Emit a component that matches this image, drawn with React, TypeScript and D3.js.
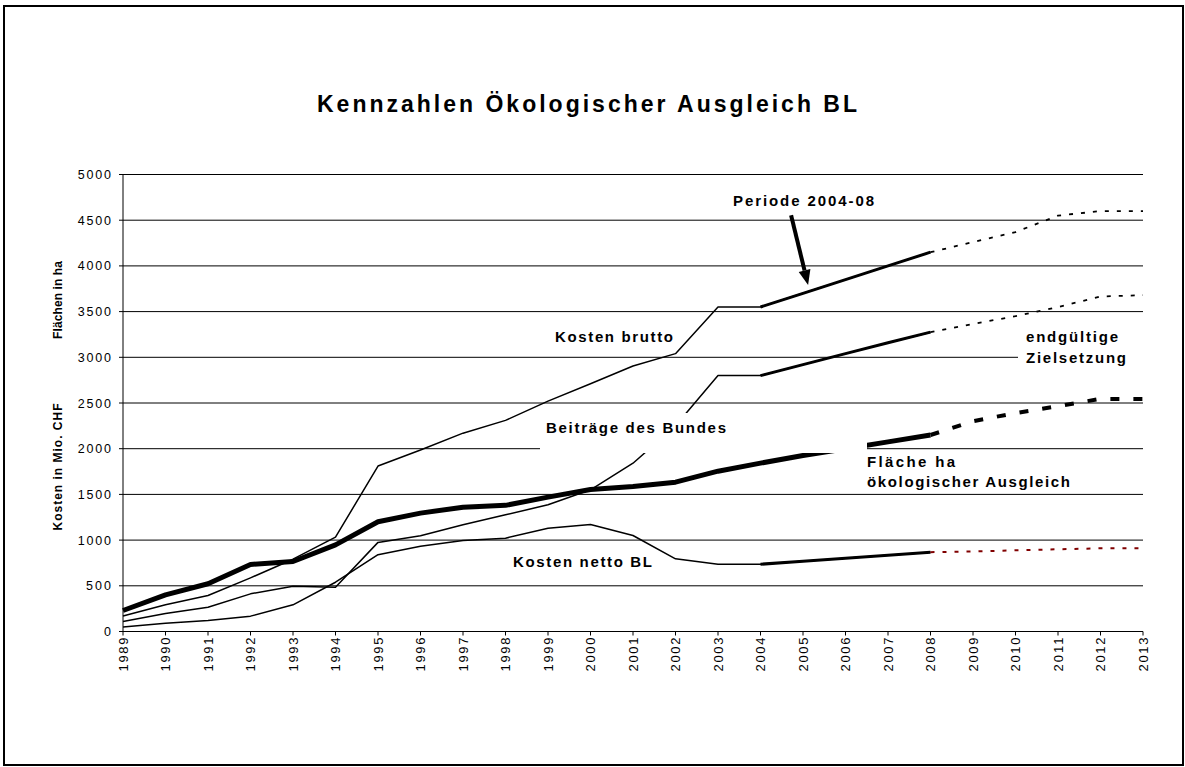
import React from "react";
import * as d3 from "d3";

// Jahre (Achsenbeschriftung)
const years = [
  1989, 1990, 1991, 1992, 1993, 1994, 1995, 1996, 1997, 1998, 1999, 2000, 2001,
  2002, 2003, 2004, 2005, 2006, 2007, 2008, 2009, 2010, 2011, 2012, 2013,
];
const istYears = years.slice(0, 20); // 1989-2008
const zielYears = years.slice(19); // 2008-2013
const periodeStart = 15; // Index 2004

const yTicks = [0, 500, 1000, 1500, 2000, 2500, 3000, 3500, 4000, 4500, 5000];

// Kosten brutto (Mio. CHF)
const bruttoIst = [170, 292, 394, 587, 791, 1032, 1810, 1985, 2170, 2310, 2520, 2710, 2905, 3040, 3550, 3550, 3700, 3850, 4000, 4150];
const bruttoZiel = [4150, 4260, 4370, 4550, 4600, 4600];
// Beiträge des Bundes
const bundIst = [110, 197, 266, 412, 496, 485, 975, 1047, 1167, 1277, 1386, 1550, 1841, 2250, 2800, 2800, 2920, 3040, 3160, 3275];
const bundZiel = [3275, 3365, 3450, 3550, 3665, 3680];
// Kosten netto BL
const nettoIst = [50, 91, 120, 168, 292, 539, 840, 933, 996, 1021, 1130, 1171, 1050, 795, 736, 736, 769, 802, 835, 868];
const nettoZiel = [868, 875, 888, 900, 910, 910];
// Fläche ha ökologischer Ausgleich
const flaecheIst = [230, 400, 522, 733, 766, 948, 1200, 1295, 1360, 1380, 1470, 1553, 1586, 1634, 1754, 1842, 1925, 2000, 2075, 2150];
const flaecheZiel = [2150, 2300, 2390, 2465, 2545, 2545];

// Pfeil "Periode 2004-08" (Jahr, Wert)
const arrowFrom = [2004.72, 4555];
const arrowTo = [2005.12, 3790];

const FONT = "'Liberation Sans', Arial, sans-serif";

const App = () => {
  const width = 1185;
  const height = 767;

  const x = d3.scaleLinear().domain([1989, 2013]).range([123, 1143]);
  const y = d3.scaleLinear().domain([0, 5000]).range([631.5, 174.5]);

  const line = (xs: number[], vs: number[]) =>
    d3.line<number>()
      .x((_, i) => x(xs[i]))
      .y((d) => y(d))(vs) || "";

  // Pfeilspitze
  const ax0 = x(arrowFrom[0]), ay0 = y(arrowFrom[1]);
  const ax1 = x(arrowTo[0]), ay1 = y(arrowTo[1]);
  const ang = Math.atan2(ay1 - ay0, ax1 - ax0);
  const headLen = 15, headW = 6;
  const bx = ax1 - headLen * Math.cos(ang), by = ay1 - headLen * Math.sin(ang);
  const head = [
    [ax1, ay1],
    [bx + headW * Math.sin(ang), by - headW * Math.cos(ang)],
    [bx - headW * Math.sin(ang), by + headW * Math.cos(ang)],
  ].map((p) => p.join(",")).join(" ");

  const thin = 1.5;
  const bold = 3;

  const labelStyle = { fontFamily: FONT, fontWeight: "bold" as const, fontSize: 15 };

  return (
    <svg width={width} height={height} style={{ position: "absolute", left: 0, top: 0, background: "#fff" }}>
      <rect x={0} y={0} width={width} height={height} fill="#fff" />
      {/* Rahmen */}
      <rect x={4} y={6} width={1179} height={759} fill="none" stroke="#000" strokeWidth={2} />

      {/* Titel */}
      <text x={317} y={112} textLength={540} lengthAdjust="spacing"
        style={{ fontFamily: FONT, fontWeight: "bold", fontSize: 23 }}>
        Kennzahlen Ökologischer Ausgleich BL
      </text>

      {/* Gitterlinien */}
      {yTicks.map((t) => (
        <g key={t}>
          <line x1={x(1989)} x2={x(2013)} y1={y(t)} y2={y(t)} stroke="#000" strokeWidth={1} />
          <line x1={x(1989) - 4} x2={x(1989)} y1={y(t)} y2={y(t)} stroke="#000" strokeWidth={1} />
          <text x={111} y={y(t) + 4.5} textAnchor="end" textLength={String(t).length * 8.3} lengthAdjust="spacing"
            style={{ fontFamily: FONT, fontSize: 12.5 }}>
            {t}
          </text>
        </g>
      ))}

      {/* Achsen */}
      <line x1={x(1989)} x2={x(1989)} y1={y(0)} y2={y(5000)} stroke="#000" strokeWidth={1} />
      <line x1={x(1989)} x2={x(2013)} y1={y(0)} y2={y(0)} stroke="#000" strokeWidth={1} />
      {years.map((yr) => (
        <g key={yr}>
          <line x1={x(yr)} x2={x(yr)} y1={y(0)} y2={y(0) + 4} stroke="#000" strokeWidth={1} />
          <text transform={`translate(${x(yr)},${y(0) + 6}) rotate(-90)`} textAnchor="end" dy="0.36em"
            textLength={34} lengthAdjust="spacing" style={{ fontFamily: FONT, fontSize: 13 }}>
            {yr}
          </text>
        </g>
      ))}

      {/* Achsentitel */}
      <text transform={`translate(62,300) rotate(-90)`} textAnchor="middle" textLength={78} lengthAdjust="spacing"
        style={{ fontFamily: FONT, fontWeight: "bold", fontSize: 12 }}>
        Flächen in ha
      </text>
      <text transform={`translate(62,467) rotate(-90)`} textAnchor="middle" textLength={127} lengthAdjust="spacing"
        style={{ fontFamily: FONT, fontWeight: "bold", fontSize: 12 }}>
        Kosten in Mio. CHF
      </text>

      {/* Linien Ist */}
      <g fill="none" stroke="#000" strokeLinejoin="round">
        <path d={line(istYears, bruttoIst)} strokeWidth={thin} />
        <path d={line(istYears, bundIst)} strokeWidth={thin} />
        <path d={line(istYears, nettoIst)} strokeWidth={thin} />
        <path d={line(istYears.slice(periodeStart), bruttoIst.slice(periodeStart))} strokeWidth={bold} />
        <path d={line(istYears.slice(periodeStart), bundIst.slice(periodeStart))} strokeWidth={bold} />
        <path d={line(istYears.slice(periodeStart), nettoIst.slice(periodeStart))} strokeWidth={bold} />
        <path d={line(istYears, flaecheIst)} strokeWidth={5} />
      </g>

      {/* Zielsetzung */}
      <g fill="none">
        <path d={line(zielYears, bruttoZiel)} stroke="#000" strokeWidth={1.8} strokeDasharray="4,8" />
        <path d={line(zielYears, bundZiel)} stroke="#000" strokeWidth={1.8} strokeDasharray="4,8" />
        <path d={line(zielYears, nettoZiel)} stroke="#800000" strokeWidth={2} strokeDasharray="4,8" />
        <path d={line(zielYears, flaecheZiel)} stroke="#000" strokeWidth={4} strokeDasharray="9,14" />
      </g>

      {/* Textfelder mit weissem Hintergrund */}
      <rect x={540} y={413} width={327} height={40} fill="#fff" />
      <rect x={1018} y={333} width={135} height={34} fill="#fff" />

      {/* Pfeil */}
      <line x1={ax0} y1={ay0} x2={bx} y2={by} stroke="#000" strokeWidth={4} />
      <polygon points={head} fill="#000" />

      {/* Beschriftungen */}
      <text x={733} y={206} textLength={141} lengthAdjust="spacing" style={labelStyle}>Periode 2004-08</text>
      <text x={555} y={342} textLength={118} lengthAdjust="spacing" style={labelStyle}>Kosten brutto</text>
      <text x={546} y={433} textLength={180} lengthAdjust="spacing" style={labelStyle}>Beiträge des Bundes</text>
      <text x={513} y={567} textLength={139} lengthAdjust="spacing" style={labelStyle}>Kosten netto BL</text>
      <text x={867} y={467} textLength={88} lengthAdjust="spacing" style={labelStyle}>Fläche ha</text>
      <text x={867} y={487} textLength={203} lengthAdjust="spacing" style={labelStyle}>ökologischer Ausgleich</text>
      <text x={1026} y={342} textLength={92} lengthAdjust="spacing" style={labelStyle}>endgültige</text>
      <text x={1026} y={363} textLength={100} lengthAdjust="spacing" style={labelStyle}>Zielsetzung</text>
    </svg>
  );
};

export default App;
